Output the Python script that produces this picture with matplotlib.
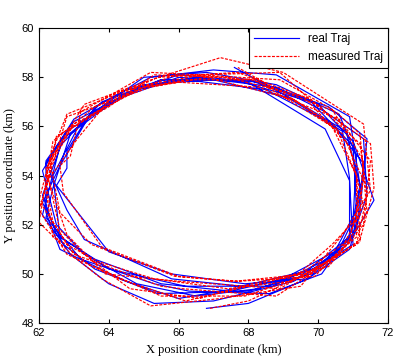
import matplotlib.pyplot as plt

# real trajectory (km)
real_x = [66.8, 68.0, 69.7, 70.9, 71.6, 71.0, 70.0, 68.0, 65.5, 63.8, 62.6, 62.1, 62.9, 64.0, 65.3,
          67.0, 69.3, 70.9, 71.2, 70.9, 68.8, 67.0, 65.2, 63.6, 62.6, 62.1, 62.7, 63.6, 65.4,
          68.0, 69.8, 71.0, 71.4, 71.3, 70.2, 68.8, 66.5, 64.5, 63.0, 62.2, 62.8, 63.3, 65.8,
          67.8, 69.9, 71.0, 70.9, 70.2, 68.0, 66.0, 64.2, 62.8, 62.1, 62.5, 63.3, 64.8, 66.5,
          68.3, 70.2, 71.1, 71.3, 70.4, 68.5, 66.2, 64.8, 63.2, 62.4, 62.6, 64.0, 66.2,
          68.7, 70.4, 71.1, 71.0, 69.8, 67.6, 65.5, 63.9, 62.7, 62.1, 62.5, 63.6, 65.5, 67.5,
          69.0, 70.6, 71.0, 71.1, 70.6, 68.8, 66.8, 65.0, 63.4, 62.8, 62.8, 62.5, 64.0, 65.8, 67.9,
          69.7, 70.9, 71.2, 71.4, 70.3, 68.3, 66.0, 64.4, 62.9, 62.4, 62.2, 63.2, 65.3, 66.3,
          68.6, 70.1, 70.9, 70.9, 70.7, 69.1, 67.0, 65.0, 63.0, 62.2, 62.2, 62.6, 64.5, 66.0,
          69.6, 71.0, 71.2, 70.8, 69.4, 67.6]
real_y = [48.6, 48.8, 49.8, 51.3, 53.0, 55.4, 56.9, 57.9, 57.9, 57.0, 55.2, 52.4, 50.8, 49.6, 48.8,
          48.9, 49.7, 51.5, 53.6, 56.4, 58.1, 58.3, 58.0, 56.8, 54.4, 52.9, 51.2, 50.2, 49.2,
          49.3, 50.0, 51.6, 53.2, 55.5, 56.6, 57.6, 58.0, 57.5, 56.3, 54.5, 52.6, 51.4, 49.8,
          49.5, 50.2, 51.2, 53.8, 55.9, 57.8, 58.0, 57.1, 55.8, 54.2, 52.0, 50.8, 49.6, 49.1,
          49.4, 50.4, 51.8, 54.5, 56.1, 57.5, 57.9, 57.5, 56.2, 54.0, 51.5, 50.2, 49.5,
          49.5, 50.7, 52.6, 55.2, 57.0, 57.9, 57.9, 56.9, 55.5, 53.2, 51.6, 50.6, 49.6, 49.3,
          49.8, 51.0, 52.2, 54.8, 56.5, 57.7, 58.2, 58.0, 56.4, 55.0, 54.3, 53.6, 50.9, 50.0, 49.6,
          49.8, 51.0, 52.6, 55.5, 56.8, 57.8, 58.1, 57.3, 55.7, 53.5, 52.3, 50.6, 49.6, 49.3,
          49.2, 50.0, 51.6, 53.9, 55.8, 57.2, 57.9, 57.7, 56.2, 54.6, 52.5, 51.0, 49.7, 49.0,
          49.9, 51.5, 53.6, 55.8, 57.0, 58.4]

# measured trajectory (km)
meas_x = [66.9, 68.0, 69.5, 71.1, 71.4, 71.2, 69.8, 67.7, 65.4, 63.6, 62.4, 62.0, 63.0, 63.8, 65.2,
          67.2, 69.5, 70.7, 71.5, 71.3, 69.0, 67.2, 65.0, 63.3, 62.3, 62.0, 62.9, 63.4, 65.5,
          67.9, 70.0, 71.2, 71.6, 71.5, 70.0, 68.9, 66.7, 64.7, 62.8, 62.3, 62.6, 63.5, 65.9,
          67.6, 69.7, 71.2, 71.1, 70.4, 68.2, 65.9, 64.3, 62.9, 62.2, 62.6, 63.2, 64.6, 66.6,
          68.1, 70.3, 71.3, 71.5, 70.6, 68.3, 66.0, 65.0, 63.0, 62.2, 62.8, 63.9, 66.0,
          68.9, 70.6, 71.3, 70.9, 69.6, 67.4, 65.3, 64.0, 62.5, 62.2, 62.4, 63.7, 65.3, 67.4,
          69.2, 70.4, 71.2, 71.3, 70.4, 68.9, 66.6, 65.2, 63.2, 62.9, 62.6, 62.7, 63.8, 66.0, 67.7,
          69.9, 70.8, 71.4, 71.2, 70.5, 68.1, 66.2, 64.2, 63.1, 62.2, 62.4, 63.0, 65.5, 66.1,
          68.8, 70.0, 71.1, 71.1, 70.5, 69.3, 66.8, 65.2, 62.8, 62.4, 62.0, 62.8, 64.3, 66.2,
          69.5, 70.9, 71.3, 70.7, 69.3, 67.7]
meas_y = [48.6, 48.9, 49.9, 51.2, 53.2, 55.3, 57.1, 58.2, 58.0, 56.8, 55.4, 52.1, 50.7, 49.8, 48.7,
          49.0, 49.5, 51.6, 53.4, 56.1, 58.2, 58.8, 57.8, 56.9, 54.6, 53.0, 51.0, 50.4, 49.1,
          49.1, 50.1, 51.4, 53.5, 55.3, 56.8, 58.2, 58.1, 57.6, 56.5, 54.7, 52.5, 51.2, 49.9,
          49.7, 50.0, 51.3, 54.0, 56.0, 57.9, 58.1, 57.2, 55.9, 54.3, 51.8, 50.9, 49.4, 49.0,
          49.6, 50.3, 52.0, 54.6, 56.3, 57.6, 57.8, 57.6, 56.1, 54.1, 51.6, 50.0, 49.7,
          49.4, 50.8, 52.8, 55.2, 57.2, 58.0, 58.1, 56.8, 55.6, 53.4, 51.5, 50.5, 49.8, 49.4,
          49.7, 51.2, 52.4, 54.6, 56.7, 57.9, 58.1, 58.2, 56.6, 54.8, 54.4, 53.3, 51.1, 49.9, 49.7,
          49.9, 51.2, 52.5, 55.7, 56.6, 57.9, 57.9, 57.4, 55.5, 53.7, 52.1, 50.8, 49.5, 49.4,
          49.1, 50.2, 51.5, 54.0, 56.0, 57.1, 58.0, 57.6, 56.4, 54.5, 52.6, 50.8, 49.8, 48.9,
          50.0, 51.4, 53.8, 55.7, 57.1, 58.4]

fig = plt.figure(figsize=(4.02, 3.61), dpi=100)
ax = fig.add_axes([0.097, 0.105, 0.868, 0.817])

ax.plot(real_x, real_y, color='#0000ff', lw=0.85, label='real Traj')
ax.plot(meas_x, meas_y, color='#ff0000', lw=0.85, ls=(0, (2.5, 1.2)), label='measured Traj')

ax.set_xlim(62, 72)
ax.set_ylim(48, 60)
ax.set_xticks(range(62, 73, 2))
ax.set_yticks(range(48, 61, 2))
ax.tick_params(direction='in', top=True, right=True, length=3, labelsize=8)
for lab in ax.get_xticklabels() + ax.get_yticklabels():
    lab.set_family('Liberation Sans')
ax.set_xlabel('X position coordinate (km)', family='Liberation Serif', fontsize=9, labelpad=4)
ax.set_ylabel('Y position coordinate (km)', family='Liberation Serif', fontsize=9, labelpad=4)

leg = ax.legend(loc='upper right', borderaxespad=0, fancybox=False, handlelength=3.8,
                prop={'family': 'Liberation Sans', 'size': 8.5}, framealpha=1)
leg.get_frame().set_edgecolor('black')
leg.get_frame().set_linewidth(0.8)

fig.savefig('out.png', dpi=100)
